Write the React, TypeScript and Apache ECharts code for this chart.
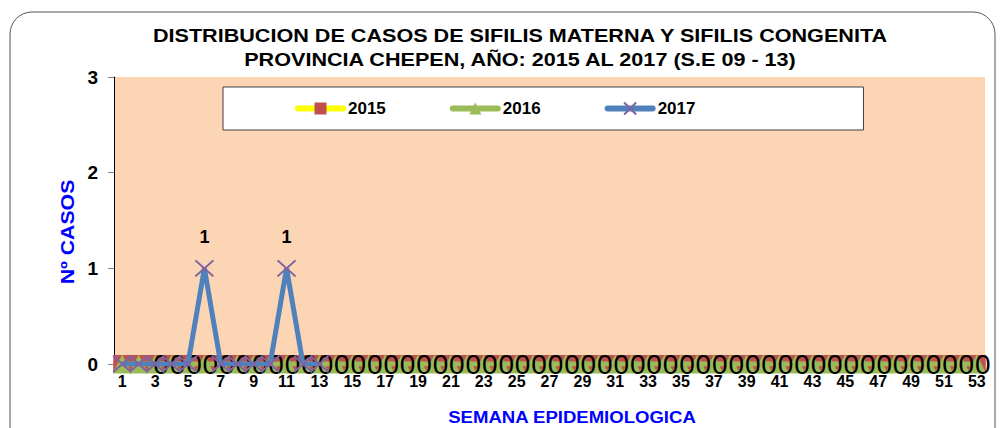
import React, { useEffect, useRef } from "react";
import * as echarts from "echarts";

const weeks = [
  "1","2","3","4","5","6","7","8","9","10","11","12","13","14","15","16","17","18","19","20",
  "21","22","23","24","25","26","27","28","29","30","31","32","33","34","35","36","37","38","39","40",
  "41","42","43","44","45","46","47","48","49","50","51","52","53",
];
const cases2015 = [
  0,0,0,0,0,0,0,0,0,0,0,0,0,0,0,0,0,0,0,0,
  0,0,0,0,0,0,0,0,0,0,0,0,0,0,0,0,0,0,0,0,
  0,0,0,0,0,0,0,0,0,0,0,0,0,
];
const cases2016 = [
  0,0,0,0,0,0,0,0,0,0,0,0,0,0,0,0,0,0,0,0,
  0,0,0,0,0,0,0,0,0,0,0,0,0,0,0,0,0,0,0,0,
  0,0,0,0,0,0,0,0,0,0,0,0,0,
];
const cases2017 = [0, 0, 0, 0, 0, 1, 0, 0, 0, 0, 1, 0, 0];
const yTicks = { min: 0, max: 3, interval: 1 };
const titleLines = [
  "DISTRIBUCION DE CASOS DE SIFILIS MATERNA Y SIFILIS CONGENITA",
  "PROVINCIA CHEPEN, AÑO: 2015 AL 2017 (S.E 09 - 13)",
];
const yName = "Nº CASOS";
const xName = "SEMANA EPIDEMIOLOGICA";

const FONT = "'Liberation Sans', Arial, sans-serif";

export default function App() {
  const ref = useRef<HTMLDivElement>(null);
  useEffect(() => {
    document.body.style.margin = "0";
    const chart = echarts.init(ref.current!, null, { renderer: "svg" });
    chart.setOption({
      animation: false,
      backgroundColor: "#ffffff",
      textStyle: { fontFamily: FONT },
      graphic: [
        {
          type: "rect",
          shape: { x: 10, y: 12, width: 985, height: 440, r: 22 },
          style: { fill: "none", stroke: "#555555", lineWidth: 1 },
          silent: true,
          z: -10,
        },
        {
          type: "text",
          x: 520,
          y: 36,
          scaleX: 1.2,
          style: {
            text: titleLines[0],
            textAlign: "center",
            textVerticalAlign: "middle",
            font: `bold 18px ${FONT}`,
            fill: "#000",
          },
        },
        {
          type: "text",
          x: 520,
          y: 60,
          scaleX: 1.2,
          style: {
            text: titleLines[1],
            textAlign: "center",
            textVerticalAlign: "middle",
            font: `bold 18px ${FONT}`,
            fill: "#000",
          },
        },
        {
          type: "text",
          x: 67,
          y: 232,
          rotation: Math.PI / 2,
          scaleX: 1.12,
          style: {
            text: yName,
            textAlign: "center",
            textVerticalAlign: "middle",
            font: `bold 19px ${FONT}`,
            fill: "#0000FF",
          },
        },
        {
          type: "text",
          x: 572,
          y: 417,
          scaleX: 1.16,
          style: {
            text: xName,
            textAlign: "center",
            textVerticalAlign: "middle",
            font: `bold 16px ${FONT}`,
            fill: "#0000FF",
          },
        },
      ],
      legend: {
        data: ["2015", "2016", "2017"],
        left: 223,
        top: 87,
        padding: [13, 168, 13, 72],
        backgroundColor: "#ffffff",
        borderColor: "#404040",
        borderWidth: 1,
        itemWidth: 45,
        itemHeight: 15,
        itemGap: 64,
        lineStyle: { width: 6, cap: "round" },
        textStyle: { fontFamily: FONT, fontWeight: "bold", fontSize: 17, color: "#000" },
      },
      grid: {
        left: 114,
        right: 16,
        top: 77,
        bottom: 64,
        show: true,
        backgroundColor: "#FCD5B5",
        borderWidth: 0,
      },
      xAxis: {
        type: "category",
        data: weeks,
        boundaryGap: true,
        axisLine: { show: true, lineStyle: { color: "#000" } },
        axisTick: { show: false },
        axisLabel: {
          interval: 1,
          fontFamily: FONT,
          fontWeight: "bold",
          fontSize: 16,
          color: "#000",
          margin: 9,
        },
      },
      yAxis: {
        type: "value",
        min: yTicks.min,
        max: yTicks.max,
        interval: yTicks.interval,
        axisLine: { show: true, lineStyle: { color: "#000" } },
        axisTick: { show: true, length: 6, lineStyle: { color: "#808080" } },
        splitLine: { show: false },
        axisLabel: {
          fontFamily: FONT,
          fontWeight: "bold",
          fontSize: 19,
          color: "#000",
          margin: 16,
        },
      },
      series: [
        {
          name: "2015",
          type: "line",
          data: cases2015,
          showAllSymbol: true,
          symbol: "rect",
          symbolSize: 18,
          itemStyle: { color: "#C0504D" },
          lineStyle: { color: "#FFFF00", width: 5 },
          z: 2,
        },
        {
          name: "2016",
          type: "line",
          data: cases2016,
          showAllSymbol: true,
          symbol: "triangle",
          symbolSize: 19,
          itemStyle: { color: "#9BBB59" },
          lineStyle: { color: "#9BBB59", width: 5 },
          label: {
            show: true,
            position: "inside",
            offset: [6, 0],
            fontFamily: FONT,
            fontSize: 28,
            color: "#000",
            formatter: (p: any) => (p.dataIndex < 2 ? "" : String(p.value)),
          },
          z: 3,
        },
        {
          name: "2017",
          type: "line",
          data: cases2017,
          showAllSymbol: true,
          symbol: "path://M0,0L10,10M10,0L0,10",
          symbolSize: [18, 16],
          itemStyle: { color: "#8064A2", borderColor: "#8064A2", borderWidth: 2 },
          lineStyle: { color: "#4F81BD", width: 5 },
          label: {
            show: true,
            position: "top",
            distance: 13,
            fontFamily: FONT,
            fontWeight: "bold",
            fontSize: 18,
            color: "#000",
            formatter: (p: any) => (p.value > 0 ? String(p.value) : ""),
          },
          z: 4,
        },
      ],
    });
    return () => chart.dispose();
  }, []);
  return <div ref={ref} style={{ width: 1001, height: 428 }} />;
}
